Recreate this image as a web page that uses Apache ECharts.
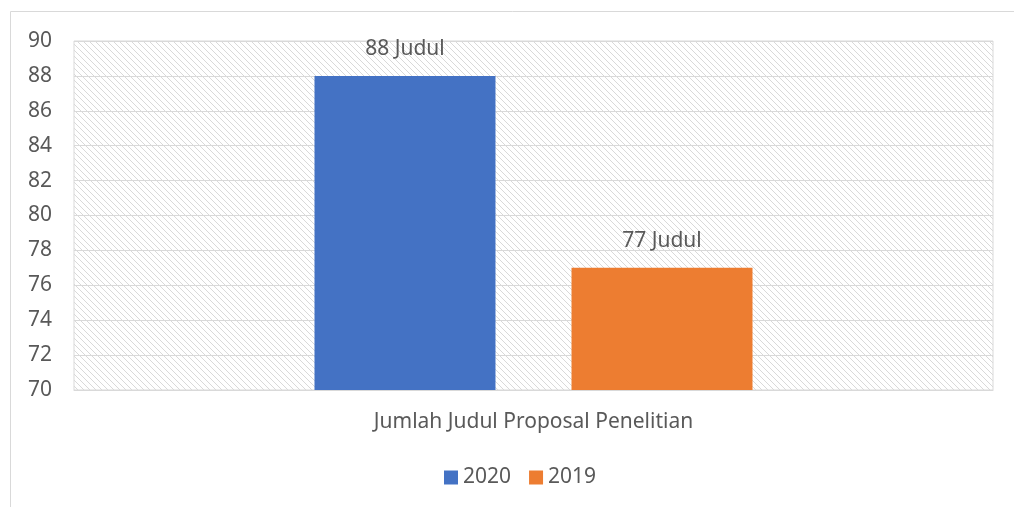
<!DOCTYPE html>
<html>
<head>
<meta charset="utf-8">
<script src="https://cdn.jsdelivr.net/npm/echarts@6/dist/echarts.min.js"></script>
<style>
  html, body { margin: 0; padding: 0; background: #fff; }
  #chart { width: 1014px; height: 507px; }
</style>
</head>
<body>
<div id="chart"></div>
<script>
  var categories = ['Jumlah Judul Proposal Penelitian'];
  var seriesNames = ['2020', '2019'];
  var values2020 = [88];
  var values2019 = [77];
  var yMin = 70, yMax = 90, yStep = 2;

  // diagonal hatch for the plot area
  function hatch() {
    var c = document.createElement('canvas');
    c.width = 6; c.height = 6;
    var ctx = c.getContext('2d');
    ctx.strokeStyle = '#d9d9d9';
    ctx.lineWidth = 1;
    ctx.beginPath();
    ctx.moveTo(-1, -1); ctx.lineTo(7, 7);
    ctx.moveTo(-1, 5); ctx.lineTo(1, 7);
    ctx.moveTo(5, -1); ctx.lineTo(7, 1);
    ctx.stroke();
    return c;
  }

  var textColor = '#595959';
  var font = 'Noto Sans';
  var fs = 21;
  var chart = echarts.init(document.getElementById('chart'));
  var option = {
    animation: false,
    textStyle: { fontFamily: font },
    graphic: [{
      type: 'rect',
      shape: { x: 10.5, y: 11.5, width: 1200, height: 700 },
      style: { fill: 'none', stroke: '#d9d9d9', lineWidth: 1 },
      silent: true
    }],
    grid: {
      left: 74, right: 21, top: 41, bottom: 117,
      show: true,
      backgroundColor: { image: hatch(), repeat: 'repeat' },
      borderColor: '#d9d9d9',
      borderWidth: 1
    },
    legend: {
      data: seriesNames,
      bottom: 14,
      left: 439,
      itemWidth: 14,
      itemHeight: 14,
      itemGap: 18,
      icon: 'rect',
      textStyle: { color: textColor, fontSize: fs, fontFamily: font }
    },
    xAxis: {
      type: 'category',
      data: categories,
      axisLine: { show: true, lineStyle: { color: '#d9d9d9' } },
      axisTick: { show: false },
      axisLabel: { color: textColor, fontSize: fs, fontFamily: font, margin: 22 }
    },
    yAxis: {
      type: 'value',
      min: yMin, max: yMax, interval: yStep,
      axisLine: { show: false },
      axisTick: { show: false },
      splitLine: { lineStyle: { color: '#d9d9d9', width: 1 } },
      axisLabel: { color: textColor, fontSize: fs, fontFamily: font, margin: 22 }
    },
    series: [{
      name: seriesNames[0],
      type: 'bar',
      data: values2020,
      barWidth: 181,
      barGap: '42%',
      itemStyle: { color: '#4472c4' },
      label: {
        show: true, position: 'top', distance: 16,
        formatter: '{c} Judul', color: textColor, fontSize: fs, fontFamily: font
      }
    }, {
      name: seriesNames[1],
      type: 'bar',
      data: values2019,
      barWidth: 181,
      barGap: '42%',
      itemStyle: { color: '#ed7d31' },
      label: {
        show: true, position: 'top', distance: 16,
        formatter: '{c} Judul', color: textColor, fontSize: fs, fontFamily: font
      }
    }]
  };
  chart.setOption(option);
</script>
</body>
</html>
